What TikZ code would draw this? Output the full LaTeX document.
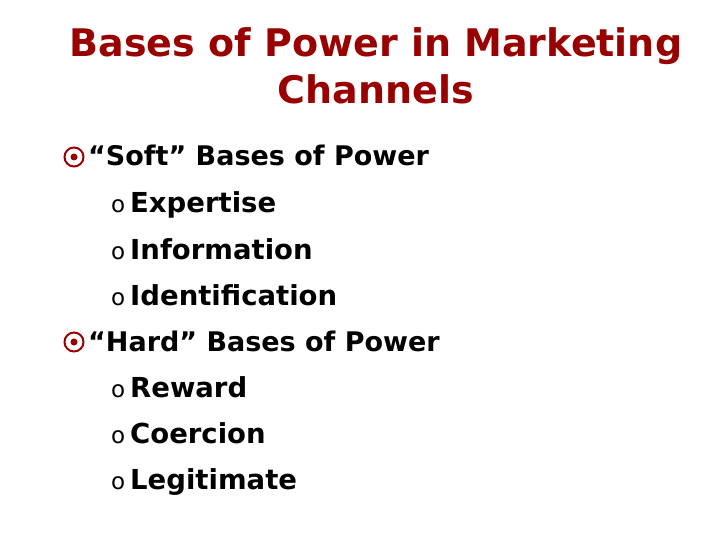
\documentclass[tikz,border=0pt]{standalone}
\usepackage{fontspec}
\setmainfont{DejaVu Sans}
\definecolor{darkred}{RGB}{153,0,0}
\tikzset{x=1pt,y=-1pt,
 title/.style={font=\bfseries\fontsize{38}{44}\selectfont,text=darkred,anchor=base},
 lvl1/.style={font=\bfseries\fontsize{27}{32}\selectfont,anchor=base west,inner sep=0},
 lvl2/.style={font=\bfseries\fontsize{27.5}{32}\selectfont,anchor=base west,inner sep=0},
 bulring/.style={draw=darkred,line width=2pt,circle,minimum size=19pt,inner sep=0},
 buldot/.style={fill=darkred,circle,minimum size=7pt,inner sep=0},
 sbul/.style={font=\fontsize{23}{28}\selectfont,anchor=base west,inner sep=0}}
\begin{document}
\begin{tikzpicture}
\useasboundingbox[fill=white] (0,0) rectangle (720,540);
\node[title] (t1) at (376,57) {Bases of Power in Marketing};
\node[title] (t2) at (376,104) {Channels};
\node[bulring] (b1) at (74,157) {};
\node[buldot] (d1) at (b1) {};
\node[lvl1] (l1) at (88,166) {“Soft” Bases of Power};
\node[sbul] (s1) at (111,213) {o};
\node[lvl2] (e1) at (130,213) {Expertise};
\node[sbul] (s2) at (111,259) {o};
\node[lvl2] (e2) at (130,259) {Information};
\node[sbul] (s3) at (111,305) {o};
\node[lvl2] (e3) at (130,305) {Identification};
\node[bulring] (b2) at (74,342) {};
\node[buldot] (d2) at (b2) {};
\node[lvl1] (l2) at (88,351) {“Hard” Bases of Power};
\node[sbul] (s4) at (111,397) {o};
\node[lvl2] (e4) at (130,397) {Reward};
\node[sbul] (s5) at (111,443) {o};
\node[lvl2] (e5) at (130,443) {Coercion};
\node[sbul] (s6) at (111,489) {o};
\node[lvl2] (e6) at (130,489) {Legitimate};
\end{tikzpicture}
\end{document}
